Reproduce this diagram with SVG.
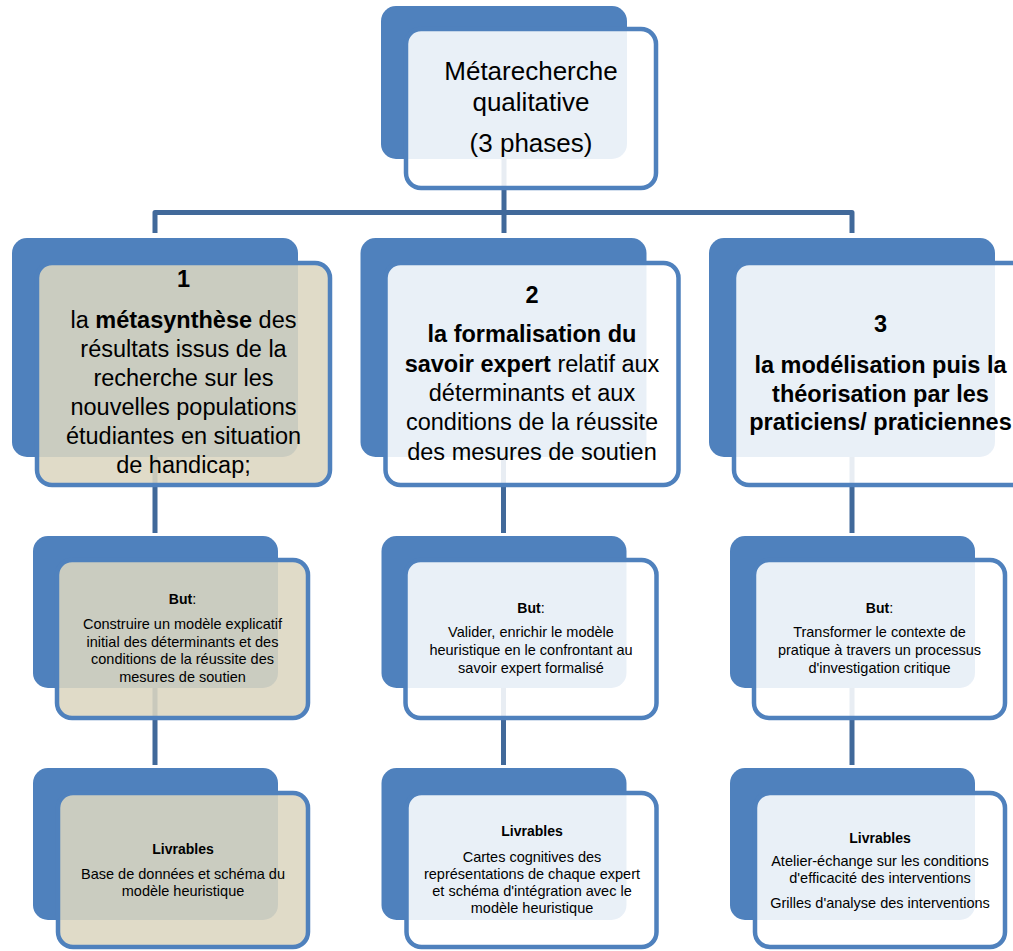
<svg xmlns="http://www.w3.org/2000/svg" width="1013" height="951" viewBox="0 0 1013 951">
<style>
.back{fill:#4F81BD}
.front{fill:#FFFFFF;fill-opacity:0.88;stroke:#4F81BD;stroke-width:4.5}
.tan{fill:#DCD6C0}
.conn{fill:none;stroke:#41699A;stroke-width:5;stroke-linejoin:round}
text{font-family:"Liberation Sans",Arial,sans-serif;fill:#000;text-anchor:middle}
.big{font-size:26px}
.ph{font-size:23.5px}
.sm{font-size:14.5px}
.smb{font-size:14px;font-weight:bold}
.b{font-weight:bold}
</style>
<rect width="1013" height="951" fill="#FFFFFF"/>
<g id="connectors">
<path class="conn" d="M504,150 V212.5 M155,233 V212.5 H852 V233 M504,212.5 V233"/>
<path class="conn" d="M155,450 V533 M503.5,450 V533 M852,450 V533"/>
<path class="conn" d="M155,680 V765 M503.5,680 V765 M852,680 V765"/>
</g>
<g id="top">
<rect class="back" x="381" y="6" width="246" height="153" rx="15"/>
<rect class="front" x="406" y="29" width="250" height="159" rx="15"/>
<text class="big" x="531" y="80">Métarecherche</text>
<text class="big" x="531" y="111">qualitative</text>
<text class="big" x="531" y="152">(3 phases)</text>
</g>
<g id="phase1">
<rect class="back" x="12" y="238" width="286" height="219" rx="15"/>
<rect class="front tan" x="37" y="263" width="293" height="222" rx="15"/>
<text class="ph b" x="183.5" y="287">1</text>
<text class="ph" x="183.5" y="328">la <tspan class="b">métasynthèse</tspan> des</text>
<text class="ph" x="183.5" y="357">résultats issus de la</text>
<text class="ph" x="183.5" y="386">recherche sur les</text>
<text class="ph" x="183.5" y="415">nouvelles populations</text>
<text class="ph" x="183.5" y="444">étudiantes en situation</text>
<text class="ph" x="183.5" y="473">de handicap;</text>
</g>
<g id="phase2">
<rect class="back" x="360.5" y="238" width="286" height="219" rx="15"/>
<rect class="front" x="385.5" y="263" width="293" height="222" rx="15"/>
<text class="ph b" x="532" y="303">2</text>
<text class="ph b" x="532" y="342">la formalisation du</text>
<text class="ph" x="532" y="372"><tspan class="b">savoir expert</tspan> relatif aux</text>
<text class="ph" x="532" y="401">déterminants et aux</text>
<text class="ph" x="532" y="430">conditions de la réussite</text>
<text class="ph" x="532" y="460">des mesures de soutien</text>
</g>
<g id="phase3">
<rect class="back" x="709" y="238" width="286" height="219" rx="15"/>
<rect class="front" x="734" y="263" width="293" height="222" rx="15"/>
<text class="ph b" x="880.5" y="332">3</text>
<text class="ph b" x="880.5" y="373">la modélisation puis la</text>
<text class="ph b" x="880.5" y="402">théorisation par les</text>
<text class="ph b" x="880.5" y="430">praticiens/ praticiennes</text>
</g>
<g id="but1">
<rect class="back" x="33" y="536" width="245" height="152" rx="15"/>
<rect class="front tan" x="57" y="560" width="251" height="158" rx="15"/>
<text class="sm" x="182.5" y="604"><tspan class="smb">But</tspan>:</text>
<text class="sm" x="182.5" y="629">Construire un modèle explicatif</text>
<text class="sm" x="182.5" y="646.5">initial des déterminants et des</text>
<text class="sm" x="182.5" y="664">conditions de la réussite des</text>
<text class="sm" x="182.5" y="681.5">mesures de soutien</text>
</g>
<g id="but2">
<rect class="back" x="381.5" y="536" width="245" height="152" rx="15"/>
<rect class="front" x="405.5" y="560" width="251" height="158" rx="15"/>
<text class="sm" x="531" y="613"><tspan class="smb">But</tspan>:</text>
<text class="sm" x="531" y="637">Valider, enrichir le modèle</text>
<text class="sm" x="531" y="655">heuristique en le confrontant au</text>
<text class="sm" x="531" y="673">savoir expert formalisé</text>
</g>
<g id="but3">
<rect class="back" x="730" y="536" width="245" height="152" rx="15"/>
<rect class="front" x="754" y="560" width="251" height="158" rx="15"/>
<text class="sm" x="879.5" y="613"><tspan class="smb">But</tspan>:</text>
<text class="sm" x="879.5" y="637">Transformer le contexte de</text>
<text class="sm" x="879.5" y="655">pratique à travers un processus</text>
<text class="sm" x="879.5" y="673">d'investigation critique</text>
</g>
<g id="livrables1">
<rect class="back" x="33" y="768" width="245" height="152" rx="15"/>
<rect class="front tan" x="58" y="793" width="250" height="154" rx="15"/>
<text class="smb" x="183" y="854">Livrables</text>
<text class="sm" x="183" y="879">Base de données et schéma du</text>
<text class="sm" x="183" y="896">modèle heuristique</text>
</g>
<g id="livrables2">
<rect class="back" x="381.5" y="768" width="245" height="152" rx="15"/>
<rect class="front" x="406.5" y="793" width="250" height="154" rx="15"/>
<text class="smb" x="532" y="836">Livrables</text>
<text class="sm" x="532" y="862">Cartes cognitives des</text>
<text class="sm" x="532" y="879">représentations de chaque expert</text>
<text class="sm" x="532" y="896">et schéma d'intégration avec le</text>
<text class="sm" x="532" y="913">modèle heuristique</text>
</g>
<g id="livrables3">
<rect class="back" x="730" y="768" width="245" height="152" rx="15"/>
<rect class="front" x="755" y="793" width="250" height="154" rx="15"/>
<text class="smb" x="880" y="843">Livrables</text>
<text class="sm" x="880" y="866">Atelier-échange sur les conditions</text>
<text class="sm" x="880" y="883">d'efficacité des interventions</text>
<text class="sm" x="880" y="908">Grilles d'analyse des interventions</text>
</g>
</svg>
